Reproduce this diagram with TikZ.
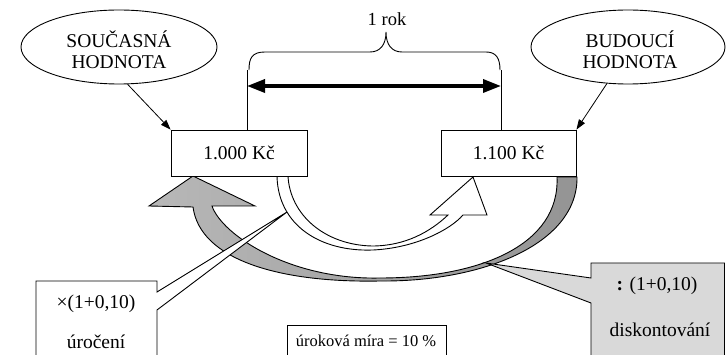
\documentclass[tikz,border=0pt]{standalone}
\usepackage{fontspec}
\setmainfont{Liberation Serif}
\usetikzlibrary{arrows.meta,shapes.geometric}
\begin{document}
\begin{tikzpicture}[x=1pt,y=-1pt, line width=0.9pt,
  txt/.style={font=\fontsize{19.5}{21}\selectfont, inner sep=0pt, align=center},
  smalltxt/.style={font=\fontsize{16.5}{19}\selectfont, inner sep=0pt},
  oval/.style={draw, ellipse, minimum width=196pt, minimum height=74pt, inner sep=0pt},
  money/.style={draw, fill=white, rectangle, minimum width=136pt, minimum height=46pt, inner sep=0pt, font=\fontsize{19.5}{21}\selectfont},
  ptr/.style={-{Triangle[length=10pt,width=7pt]}, line width=0.8pt},
  span/.style={line width=3.5pt, {Triangle[length=18pt,width=13pt]}-{Triangle[length=18pt,width=13pt]}},
]
\useasboundingbox (0,0) rectangle (726,355);
\clip (0,0) rectangle (726,355);

% grey curved arrow (diskontovani)
\path[draw, left color=black!28, right color=black!42]
  (193,176) -- (255,206) -- (212,206)
  .. controls (222,235) and (290,280) .. (380,278)
  .. controls (480,278) and (560,245) .. (557,177)
  -- (577,177)
  .. controls (578,245) and (480,282) .. (380,281)
  .. controls (280,283) and (200,260) .. (193,207)
  -- (149,206) -- cycle;

% white curved arrow (uroceni)
\draw[fill=white]
  (277,176) .. controls (278,225) and (320,252) .. (373,250)
  .. controls (415,248) and (450,230) .. (463,215)
  -- (487,215) -- (473,177) -- (430,215) -- (448,215)
  .. controls (430,232) and (405,246) .. (372,246)
  .. controls (325,245) and (290,215) .. (288,176) -- cycle;

% value boxes
\node[money] (pv) at (239,153) {1.000 Kč};
\node[money, minimum width=135pt] (fv) at (508.5,153) {1.100 Kč};

% ellipses
\node[oval] (sh) at (119,47) {};
\node[txt] (sht) at (119,50) {SOUČASNÁ\\HODNOTA};
\node[oval, minimum width=194pt] (bh) at (628,47) {};
\node[txt] (bht) at (630,50) {BUDOUCÍ\\HODNOTA};

\draw[ptr] (sh.283) -- (pv.north west);
\draw[ptr] (bh.240) -- (fv.north east);

% time span
\coordinate (l1) at (247,70);
\coordinate (r1) at (501,70);
\coordinate (a1) at (247,86);
\coordinate (a2) at (501,86);
\draw (l1) -- (l1 |- pv.north);
\draw (r1) -- (r1 |- fv.north);
\draw[span] (a1) -- (a2);
\draw (249,70) .. controls (249,58) and (252,52) .. (265,52) -- (370,52)
  .. controls (380,52) and (386,45) .. (386,32)
  .. controls (386,45) and (392,52) .. (402,52) -- (486,52)
  .. controls (496,52) and (500,58) .. (500,70);
\node[txt, font=\fontsize{18.5}{21}\selectfont] (yr) at (387,19) {1 rok};

% left callout
\coordinate (lt) at (287,212);
\draw[fill=white] (36,281) -- (157,281) -- (157,292) -- (lt) -- (157,310) -- (157,362) -- (36,362) -- cycle;
\node[txt] (mul) at (96,304) {×(1+0,10)};
\node[txt] (ur) at (96,342) {úročení};

% right callout
\coordinate (rt) at (486,263);
\draw[fill=black!15] (591,263) -- (724.5,263) -- (724.5,362) -- (591,362) -- (591,303) -- (rt) -- (591,278) -- cycle;
\node[txt] (dv) at (657,286) {\textbf{:} (1+0,10)};
\node[txt] (dis) at (660,330) {diskontování};

% rate box
\node[draw, rectangle, anchor=north west, minimum width=159pt, minimum height=40pt, inner sep=0pt] (rbox) at (287,325) {};
\node[smalltxt] (rate) at (366,341) {úroková míra = 10 \%};
\end{tikzpicture}
\end{document}
